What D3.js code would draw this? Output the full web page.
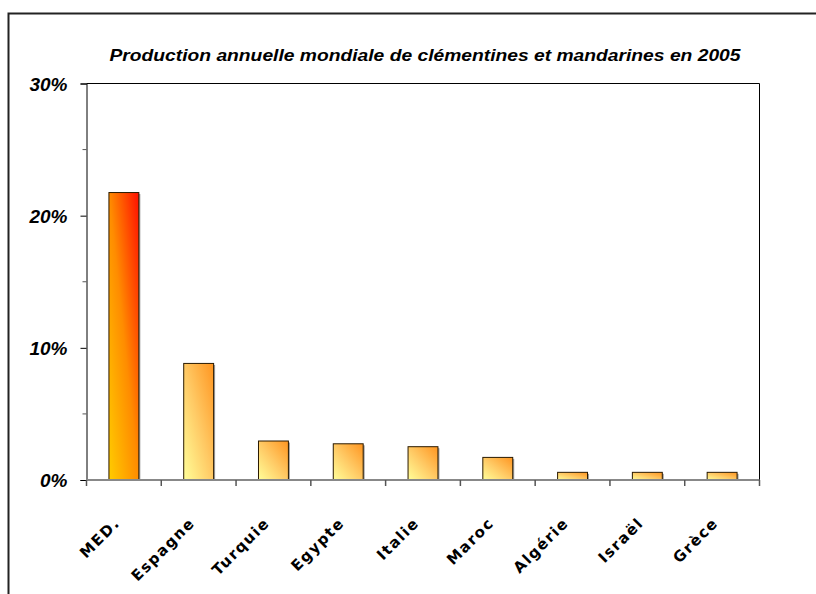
<!DOCTYPE html>
<html><head><meta charset="utf-8">
<script src="https://cdn.jsdelivr.net/npm/d3@7"></script>
<style>body{margin:0;background:#fff}svg{display:block}</style>
</head><body>
<script>
const categories = ["MED.", "Espagne", "Turquie", "Egypte", "Italie", "Maroc", "Algérie", "Israël", "Grèce"];
const values = [21.75, 8.82, 2.95, 2.74, 2.52, 1.71, 0.58, 0.58, 0.58];
const yTicks = [0, 10, 20, 30];
const yMinorTicks = [5, 15, 25];
const title = "Production annuelle mondiale de clémentines et mandarines en 2005";

const W = 816, H = 594;
const svg = d3.select("body").append("svg").attr("width", W).attr("height", H);
const defs = svg.append("defs");
const g1 = defs.append("linearGradient").attr("id", "gMed").attr("x1", 0).attr("y1", 1).attr("x2", 1).attr("y2", 0);
g1.append("stop").attr("offset", 0).attr("stop-color", "#FFCC00");
g1.append("stop").attr("offset", 0.5).attr("stop-color", "#FF8C00");
g1.append("stop").attr("offset", 1).attr("stop-color", "#FF1000");
const g2 = defs.append("linearGradient").attr("id", "gOth").attr("x1", 0).attr("y1", 1).attr("x2", 1).attr("y2", 0);
g2.append("stop").attr("offset", 0).attr("stop-color", "#FFFF99");
g2.append("stop").attr("offset", 0.5).attr("stop-color", "#FFC964");
g2.append("stop").attr("offset", 1).attr("stop-color", "#FF9520");

// outer frame
svg.append("path").attr("d", `M8.5,${H} V13.5 H${W}`).attr("fill", "none").attr("stroke", "#222").attr("stroke-width", 2);

const L = 86.5, R = 759.5, T = 83.5, B = 480;
const x = d3.scaleBand().domain(categories).range([L, R]).paddingInner(0.6).paddingOuter(0.3);
const xb = d3.scaleBand().domain(categories).range([L, R]);
const y = d3.scaleLinear().domain([0, 30]).range([B, T]);

// plot border top/right
svg.append("path").attr("d", `M${L},${T} H${R} V${B}`).attr("fill", "none").attr("stroke", "#000").attr("stroke-width", 1);

// bars shadow
svg.append("g").selectAll("rect").data(values).join("rect")
  .attr("x", (d, i) => x(categories[i]) + 1.5).attr("y", d => y(d) + 1.5)
  .attr("width", x.bandwidth()).attr("height", d => B - y(d) - 1.5)
  .attr("fill", "#a0a0a0");
svg.append("g").selectAll("rect").data(values).join("rect")
  .attr("x", (d, i) => x(categories[i])).attr("y", d => y(d))
  .attr("width", x.bandwidth()).attr("height", d => B - y(d))
  .attr("fill", (d, i) => i === 0 ? "url(#gMed)" : "url(#gOth)")
  .attr("stroke", "#2a1a00").attr("stroke-width", 1);

// y axis
const yAxis = svg.append("g").attr("transform", `translate(${L},0)`)
  .call(d3.axisLeft(y).tickValues(yTicks).tickSize(6).tickFormat(d => d + "%"));
yAxis.select(".domain").attr("stroke", "#000");
yAxis.selectAll("text").attr("font-family", "Liberation Sans, Arial, sans-serif")
  .attr("font-weight", "bold").attr("font-style", "italic").attr("font-size", 19)
  .attr("x", -19).attr("dy", "0.35em").attr("fill", "#000");
svg.append("g").selectAll("line").data(yMinorTicks).join("line")
  .attr("x1", L - 4).attr("x2", L).attr("y1", d => y(d)).attr("y2", d => y(d)).attr("stroke", "#555");

// x axis
svg.append("line").attr("x1", L).attr("x2", R).attr("y1", B).attr("y2", B).attr("stroke", "#888").attr("stroke-width", 2);
const bounds = categories.map(c => xb(c)).concat([R]);
svg.append("g").selectAll("line").data(bounds).join("line")
  .attr("x1", d => d).attr("x2", d => d).attr("y1", B).attr("y2", B + 6).attr("stroke", "#555").attr("stroke-width", 1.5);
svg.append("g").selectAll("text").data(categories).join("text")
  .attr("transform", d => `translate(${xb(d) + xb.bandwidth() / 2 - 3},${B + 44}) rotate(-45)`)
  .attr("text-anchor", "end")
  .attr("font-family", "DejaVu Sans, Verdana, sans-serif").attr("font-weight", "bold")
  .attr("font-size", 15).attr("letter-spacing", 1.5).attr("fill", "#000")
  .text(d => d);

// title
svg.append("text").attr("x", 425).attr("y", 61).attr("text-anchor", "middle")
  .attr("font-family", "Liberation Sans, Arial, sans-serif").attr("font-weight", "bold").attr("font-style", "italic")
  .attr("font-size", 16.5).attr("textLength", 631).attr("lengthAdjust", "spacingAndGlyphs").text(title);
</script>
</body></html>
